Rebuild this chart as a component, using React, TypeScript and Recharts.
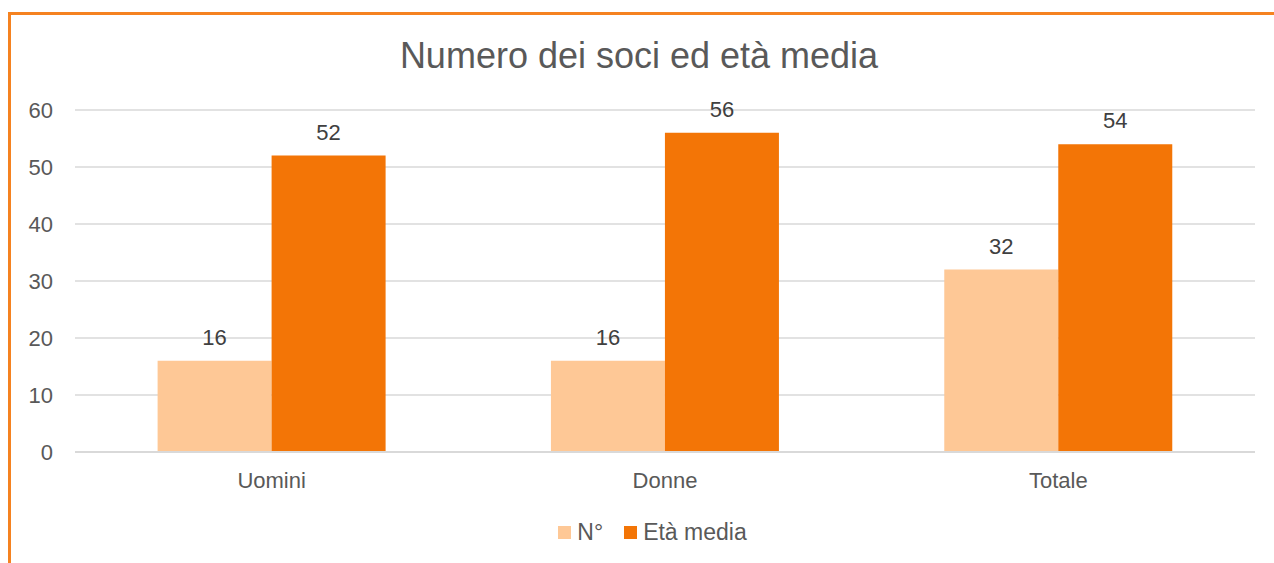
import { BarChart, Bar, XAxis, YAxis, CartesianGrid, Legend, LabelList } from 'recharts';

const categories = ['Uomini', 'Donne', 'Totale'];
const numeroSoci = [16, 16, 32];
const etaMedia = [52, 56, 54];
const yTicks = [0, 10, 20, 30, 40, 50, 60];

const data = categories.map((name, i) => ({
  name,
  numero: numeroSoci[i],
  eta: etaMedia[i],
}));

const FONT = '"Liberation Sans", Arial, sans-serif';
const LIGHT = '#FEC896';
const DARK = '#F37506';

function LegendContent() {
  const items = [
    { label: 'N°', color: LIGHT },
    { label: 'Età media', color: DARK },
  ];
  return (
    <div
      style={{
        display: 'flex',
        justifyContent: 'center',
        alignItems: 'center',
        height: 26,
        fontFamily: FONT,
        fontSize: 23,
        color: '#595959',
      }}
    >
      {items.map((it) => (
        <div key={it.label} style={{ display: 'flex', alignItems: 'center', marginRight: 21 }}>
          <span style={{ width: 13, height: 13, background: it.color, marginRight: 6 }} />
          <span>{it.label}</span>
        </div>
      ))}
    </div>
  );
}

export default function App() {
  return (
    <div style={{ position: 'fixed', left: 0, top: 0, width: 1274, height: 563, overflow: 'hidden', background: '#fff' }}>
      <div
        style={{
          position: 'absolute',
          left: 8,
          top: 12,
          width: 1300,
          height: 600,
          border: '3px solid #F58220',
        }}
      >
        <div
          style={{
            position: 'absolute',
            left: 0,
            top: 23,
            width: 1256,
            textAlign: 'center',
            fontFamily: FONT,
            fontSize: 36,
            lineHeight: '36px',
            color: '#595959',
          }}
        >
          Numero dei soci ed età media
        </div>
        <BarChart
          width={1264}
          height={540}
          data={data}
          margin={{ top: 95, right: 20, bottom: 73, left: 0 }}
          barCategoryGap="21%"
          barGap={0}
          style={{ fontFamily: FONT }}
        >
          <CartesianGrid vertical={false} stroke="#d9d9d9" strokeWidth={1.5} />
          <XAxis
            dataKey="name"
            tickLine={false}
            axisLine={{ stroke: '#d9d9d9', strokeWidth: 2 }}
            tick={{ fontSize: 22, fill: '#595959' }}
            tickMargin={14}
          />
          <YAxis
            width={64}
            domain={[0, 60]}
            ticks={yTicks}
            tickLine={false}
            axisLine={false}
            tick={{ fontSize: 22, fill: '#595959' }}
            tickMargin={16}
          />
          <Legend
            verticalAlign="middle"
            align="center"
            layout="horizontal"
            content={<LegendContent />}
            wrapperStyle={{ top: 504, left: 12, width: 1280 }}
          />
          <Bar dataKey="numero" name="N°" fill={LIGHT} isAnimationActive={false}>
            <LabelList dataKey="numero" position="top" offset={16} fill="#404040" fontSize={22} />
          </Bar>
          <Bar dataKey="eta" name="Età media" fill={DARK} isAnimationActive={false}>
            <LabelList dataKey="eta" position="top" offset={16} fill="#404040" fontSize={22} />
          </Bar>
        </BarChart>
      </div>
    </div>
  );
}
